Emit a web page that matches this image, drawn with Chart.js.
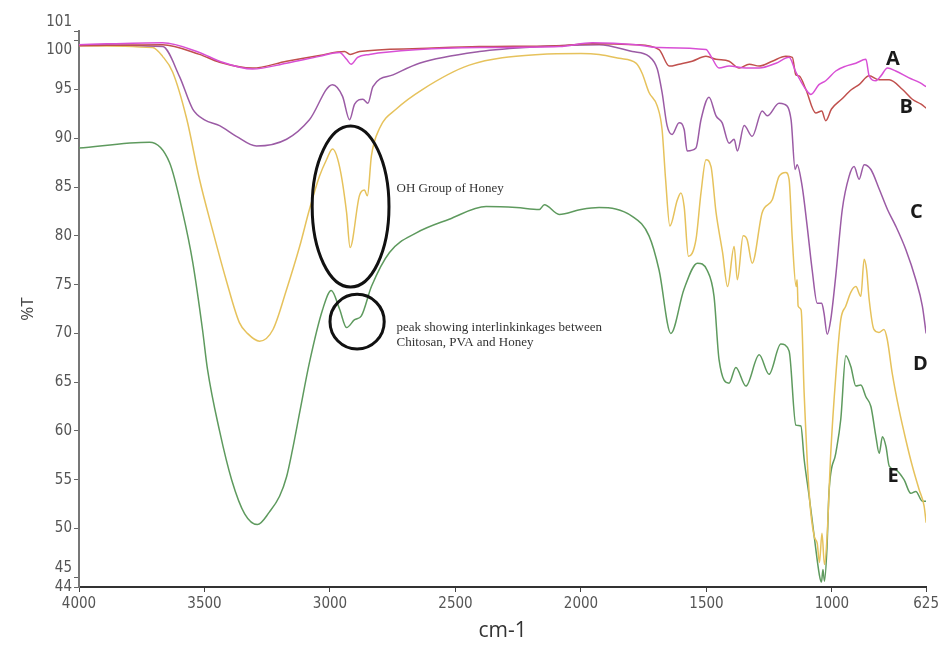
<!DOCTYPE html>
<html>
<head>
<meta charset="utf-8">
<script src="https://cdn.jsdelivr.net/npm/chart.js@4.4.1/dist/chart.umd.min.js"></script>
<style>
html, body { margin: 0; padding: 0; background: #fff; }
canvas { display: block; }
</style>
</head>
<body>
<canvas id="myChart" width="942" height="648"></canvas>
<script>
// tick labels
const wnTicks = [4000, 3500, 3000, 2500, 2000, 1500, 1000, 625];
const tTicks = [101, 100, 95, 90, 85, 80, 75, 70, 65, 60, 55, 50, 45, 44];

// series A
const aWn = [4000,3667,3520,3440,3309,3173,3042,2962,2934,2916,2890,2843,2644,2405,2087,1955,1781,1689,1502,1482,1450,1410,1343,1290,1223,1171,1144,1104,1084,1052,1025,985,945,905,865,852,825,805,779,746,693,650,625];
const aT = [99.6,99.8,98.8,97.9,97.1,97.7,98.4,98.8,98.1,97.6,98.3,98.6,99.1,99.3,99.4,99.8,99.6,99.3,99.1,98.4,97.2,97.4,97.2,97.2,97.7,98.3,96.8,95.0,94.5,95.5,95.9,96.9,97.4,97.7,98.1,96.4,95.9,96.4,97.2,96.9,96.2,95.7,95.3];

// series B
const bWn = [4000,3667,3520,3440,3309,3173,3042,2942,2920,2882,2644,2405,2087,1955,1781,1689,1648,1609,1557,1502,1462,1410,1370,1330,1290,1238,1184,1158,1144,1131,1104,1065,1041,1025,1002,962,922,892,852,812,772,719,680,645,625];
const bT = [99.5,99.6,98.6,97.8,97.2,97.9,98.5,98.9,98.6,98.9,99.2,99.4,99.5,99.7,99.6,99.1,97.4,97.6,97.9,98.4,98.1,97.9,97.2,97.6,97.4,97.9,98.4,98.3,96.5,96.4,95.0,92.6,92.8,91.8,93.0,94.0,95.0,95.5,96.4,96.0,96.0,95.0,94.0,93.5,93.1];

// series C
const cWn = [4000,3667,3599,3547,3500,3440,3373,3293,3173,3082,2990,2950,2922,2902,2869,2849,2829,2749,2644,2405,2166,1928,1796,1729,1696,1677,1657,1637,1609,1589,1577,1542,1522,1490,1462,1438,1410,1390,1377,1350,1318,1278,1258,1211,1191,1163,1147,1139,1119,1099,1079,1059,1041,1032,1019,1005,985,959,932,912,892,872,845,812,779,746,706,666,640,625];
const cT = [99.6,99.4,96.3,93.0,91.9,91.3,90.2,89.2,89.9,91.9,95.5,94.3,91.9,93.5,94.0,93.6,95.3,96.5,97.7,98.9,99.4,99.6,98.9,98.4,97.1,94.7,91.3,90.4,91.6,90.9,88.7,89.0,91.9,94.2,92.3,91.6,89.5,89.9,88.7,91.3,90.2,92.8,92.3,93.6,93.5,91.9,86.8,87.3,85.1,81.0,76.5,73.1,73.1,72.1,69.9,71.4,75.9,82.7,86.1,87.1,85.8,87.3,86.8,84.8,82.7,81.0,78.6,75.5,72.8,70.0];

// series D
const dWn = [4000,3707,3667,3627,3571,3520,3468,3414,3361,3329,3281,3227,3173,3121,3082,3042,3014,2990,2962,2934,2920,2883,2863,2851,2835,2803,2736,2632,2445,2166,2000,1928,1848,1781,1757,1729,1696,1677,1663,1646,1616,1602,1589,1572,1542,1522,1502,1482,1462,1436,1416,1390,1377,1354,1338,1318,1278,1238,1211,1184,1171,1158,1143,1139,1135,1123,1111,1091,1071,1059,1050,1040,1030,1020,1005,985,965,945,925,905,885,872,862,852,833,813,793,780,760,733,706,680,653,633,625];
const dT = [99.5,99.3,98.4,96.8,92.0,85.8,80.6,75.5,71.1,70.0,69.2,70.4,74.5,78.9,82.7,86.1,87.8,88.9,87.1,82.4,78.8,84.1,84.7,84.1,88.2,91.0,93.0,95.0,97.5,98.6,98.7,98.6,98.2,97.7,96.7,94.7,93.3,90.9,85.8,81.0,83.7,84.4,83.0,77.9,79.6,84.4,87.8,87.1,82.4,78.3,74.8,78.9,75.5,80.0,79.6,77.2,82.4,83.7,86.1,86.5,85.8,79.6,74.8,75.5,72.8,72.4,63.9,53.6,49.2,48.5,46.5,49.5,46.3,49.0,57.7,65.6,71.4,72.8,74.2,74.8,73.8,77.6,76.5,73.5,70.4,70.1,70.4,69.4,65.9,62.2,59.1,56.4,54.0,52.3,50.6];

// series E
const eWn = [4000,3719,3639,3587,3547,3508,3488,3440,3392,3340,3289,3241,3201,3173,3150,3120,3082,3030,2995,2962,2934,2902,2875,2835,2763,2656,2525,2378,2258,2166,2146,2087,2000,1928,1796,1729,1689,1642,1590,1536,1498,1470,1450,1410,1383,1343,1290,1251,1204,1171,1144,1124,1111,1091,1071,1050,1042,1036,1030,1020,1012,985,965,945,925,905,885,865,845,825,812,799,785,772,745,713,686,666,640,625];
const eT = [89.0,89.6,87.5,82.4,77.3,70.4,66.3,60.0,55.0,51.5,50.4,51.7,53.3,55.3,58.0,62.0,67.0,72.4,74.4,72.5,70.6,71.4,71.8,74.8,78.3,80.3,81.7,83.0,82.9,82.7,83.2,82.2,82.7,82.9,82.0,80.0,76.5,70.0,74.5,77.2,76.5,73.8,67.3,64.9,66.5,64.6,67.8,65.8,68.9,68.2,60.6,60.5,57.1,53.3,49.2,45.2,44.5,45.8,44.6,48.0,53.7,57.7,61.2,67.7,66.6,64.6,64.7,63.5,62.5,59.4,57.7,59.4,58.4,56.4,56.0,55.0,53.6,53.8,52.8,52.8];

const seriesNames = ['A', 'B', 'C', 'D', 'E'];
const seriesColors = ['#d84fd5', '#c0504d', '#9b5ba5', '#e6c25c', '#5e9a5e'];

// letter tags next to the curves, in data units (wavenumber, %T)
const tagWn = [757, 704, 664, 648, 757];
const tagT = [98.1, 93.2, 82.4, 66.8, 55.3];

// annotation ovals and notes, in data units
const ovals = [
    {wn: 2918, t: 83.0, halfWn: 153, halfT: 8.25},
    {wn: 2892, t: 71.2, halfWn: 108, halfT: 2.8}
];
const notes = [
    {wn: 2735, t: 84.8, text: 'OH Group of Honey'},
    {wn: 2735, t: 70.6, text: 'peak showing interlinkinkages between'},
    {wn: 2735, t: 69.1, text: 'Chitosan, PVA and Honey'}
];

function pairUp(xs, ys) {
    return xs.map((x, i) => ({x: x, y: ys[i]}));
}

const allWn = [aWn, bWn, cWn, dWn, eWn];
const allT = [aT, bT, cT, dT, eT];

const datasets = seriesNames.map((name, i) => ({
    label: name,
    data: pairUp(allWn[i], allT[i]),
    borderColor: seriesColors[i],
    backgroundColor: seriesColors[i],
    borderWidth: 1.5,
    pointRadius: 0,
    showLine: true,
    fill: false,
    cubicInterpolationMode: 'monotone'
}));

const tickFont = {family: '"DejaVu Sans Condensed", "Liberation Sans Narrow", "Liberation Sans", sans-serif', size: 15};

const annotate = {
    id: 'annotate',
    afterDatasetsDraw(chart) {
        const c = chart.ctx;
        const xs = chart.scales.x;
        const ys = chart.scales.y;
        c.save();
        c.strokeStyle = '#111';
        c.lineWidth = 3;
        ovals.forEach(o => {
            const cx = xs.getPixelForValue(o.wn);
            const cy = ys.getPixelForValue(o.t);
            const rx = Math.abs(xs.getPixelForValue(o.wn - o.halfWn) - cx);
            const ry = Math.abs(ys.getPixelForValue(o.t + o.halfT) - cy);
            c.beginPath();
            c.ellipse(cx, cy, rx, ry, 0, 0, Math.PI * 2);
            c.stroke();
        });
        c.fillStyle = '#333';
        c.font = '13px "Liberation Serif", "Times New Roman", serif';
        c.textAlign = 'left';
        c.textBaseline = 'middle';
        notes.forEach(n => {
            c.fillText(n.text, xs.getPixelForValue(n.wn), ys.getPixelForValue(n.t));
        });
        c.fillStyle = '#1a1a1a';
        c.font = 'bold 20px "Open Sans", "Liberation Sans", sans-serif';
        c.textAlign = 'center';
        seriesNames.forEach((name, i) => {
            c.fillText(name, xs.getPixelForValue(tagWn[i]), ys.getPixelForValue(tagT[i]));
        });
        c.restore();
    }
};

const ctx = document.getElementById('myChart').getContext('2d');
const myChart = new Chart(ctx, {
    type: 'scatter',
    data: {datasets: datasets},
    plugins: [annotate],
    options: {
        responsive: false,
        animation: false,
        devicePixelRatio: 1,
        layout: {padding: {left: 0, right: 15, top: 31, bottom: 0}},
        plugins: {
            legend: {display: false},
            tooltip: {enabled: false}
        },
        scales: {
            x: {
                type: 'linear',
                reverse: true,
                min: 625,
                max: 4000,
                afterBuildTicks: s => { s.ticks = wnTicks.map(v => ({value: v})); },
                afterFit: s => { s.height = 61; },
                grid: {drawOnChartArea: false, tickLength: 5, color: '#444'},
                border: {color: '#333', width: 2},
                ticks: {
                    autoSkip: false,
                    maxRotation: 0,
                    color: '#555',
                    font: tickFont,
                    padding: 3,
                    callback: v => String(v)
                },
                title: {
                    display: true,
                    text: 'cm-1',
                    color: '#333',
                    font: {family: '"Open Sans", sans-serif', size: 21},
                    padding: {top: 0, bottom: 4}
                }
            },
            y: {
                min: 44,
                max: 101,
                afterBuildTicks: s => { s.ticks = tTicks.map(v => ({value: v})); },
                afterFit: s => { s.width = 79; },
                grid: {drawOnChartArea: false, tickLength: 5, color: '#666'},
                border: {color: '#777', width: 2},
                ticks: {
                    autoSkip: false,
                    color: '#555',
                    font: tickFont,
                    padding: 2,
                    callback: v => {
                        if (v === 101) return ['101', ''];
                        if (v === 100) return ['', '100'];
                        if (v === 45) return ['45', ''];
                        return String(v);
                    }
                },
                title: {
                    display: true,
                    text: '%T',
                    color: '#444',
                    font: {family: '"Open Sans", sans-serif', size: 17},
                    padding: {top: 18, bottom: 0}
                }
            }
        }
    }
});
</script>
</body>
</html>
